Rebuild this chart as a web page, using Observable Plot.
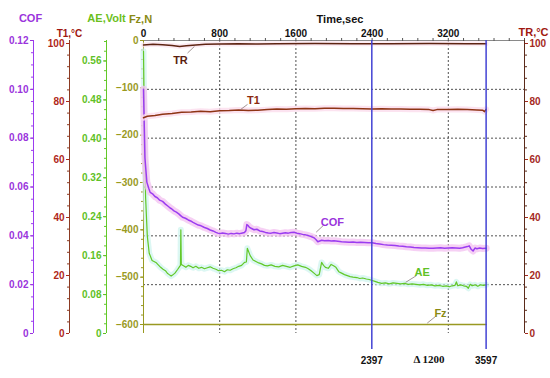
<!DOCTYPE html>
<html><head><meta charset="utf-8">
<script src="https://cdn.jsdelivr.net/npm/d3@7"></script>
<script src="https://cdn.jsdelivr.net/npm/@observablehq/plot@0.6"></script>
<style>
body{margin:0;background:#fff;}
#chart{position:relative;width:550px;height:378px;background:#fff;}
#chart svg{position:absolute;left:0;top:0;}
</style></head><body><div id="chart"></div>
<script>
// ---------- data ----------
const xDomain = [0, 4000];
const timeTicks = [0, 800, 1600, 2400, 3200];
const timeMinor = [160,320,480,640,800,960,1120,1280,1440,1600,1760,1920,2080,2240,2400,2560,2720,2880,3040,3200,3360,3520,3680,3840,4000];
const gridTimes = [800, 1600, 3200];
const cursorTimes = [2397, 3597];

const cofDomain = [0, 0.12];
const cofTicks = [0, 0.02, 0.04, 0.06, 0.08, 0.10, 0.12];
const cofGrid = [0.02, 0.04, 0.06, 0.08, 0.10];
const tempDomain = [0, 100];
const tempTicks = [0, 20, 40, 60, 80, 100];
const aeDomain = [0, 0.6];
const aeTicks = [0, 0.08, 0.16, 0.24, 0.32, 0.40, 0.48, 0.56];
const fzDomain = [-600, 0];
const fzTicks = [-600, -500, -400, -300, -200, -100, 0];

// [time (s), COF]
const cofSeries = [[0,0.100],[15,0.072],[35,0.062],[55,0.0595],[70,0.0578],[95,0.0572],[120,0.0561],[145,0.0556],[170,0.0546],[200,0.0541],[230,0.0530],[255,0.0522],[280,0.0514],[300,0.0509],[320,0.0502],[345,0.0497],[370,0.0490],[390,0.0483],[410,0.0476],[440,0.0472],[470,0.0465],[495,0.0461],[520,0.0455],[550,0.0449],[575,0.0444],[605,0.0441],[640,0.0434],[670,0.0430],[700,0.0424],[730,0.0420],[760,0.0414],[780,0.0411],[800,0.0409],[830,0.0412],[860,0.0410],[890,0.0407],[920,0.0410],[950,0.0408],[980,0.0411],[1010,0.0409],[1040,0.0412],[1060,0.0414],[1075,0.0421],[1085,0.0446],[1095,0.0443],[1110,0.0436],[1130,0.0431],[1160,0.0425],[1190,0.0427],[1220,0.0420],[1250,0.0418],[1280,0.0414],[1310,0.0412],[1340,0.0411],[1370,0.0414],[1400,0.0412],[1430,0.0409],[1460,0.0411],[1490,0.0413],[1520,0.0411],[1550,0.0414],[1580,0.0415],[1610,0.0411],[1640,0.0409],[1670,0.0406],[1700,0.0404],[1730,0.0401],[1760,0.0397],[1790,0.0392],[1810,0.0385],[1830,0.0376],[1850,0.0379],[1870,0.0382],[1900,0.0380],[1940,0.0381],[1970,0.0379],[2000,0.0380],[2040,0.0378],[2080,0.0376],[2120,0.0375],[2160,0.0374],[2200,0.0375],[2240,0.0373],[2280,0.0374],[2320,0.0373],[2360,0.0372],[2400,0.0372],[2440,0.0369],[2480,0.0367],[2520,0.0364],[2560,0.0362],[2600,0.0361],[2640,0.0360],[2680,0.0358],[2720,0.0357],[2760,0.0355],[2800,0.0354],[2840,0.0352],[2880,0.0351],[2920,0.0350],[2960,0.0350],[3000,0.0349],[3040,0.0349],[3080,0.0350],[3120,0.0351],[3160,0.0349],[3200,0.0350],[3240,0.0351],[3280,0.0350],[3320,0.0349],[3350,0.0351],[3380,0.0354],[3400,0.0356],[3420,0.0359],[3440,0.0345],[3460,0.0338],[3480,0.0350],[3500,0.0347],[3530,0.0350],[3560,0.0348],[3597,0.0349]];

// [time (s), AE (V)]
const aeSeries = [[0,0.58],[10,0.42],[22,0.28],[40,0.20],[60,0.165],[90,0.150],[130,0.146],[160,0.140],[180,0.136],[205,0.132],[230,0.129],[250,0.124],[270,0.121],[290,0.118],[305,0.120],[330,0.124],[360,0.132],[380,0.138],[388,0.140],[392,0.213],[397,0.142],[420,0.139],[445,0.136],[470,0.140],[495,0.138],[520,0.135],[550,0.138],[580,0.134],[610,0.136],[640,0.133],[670,0.135],[700,0.137],[730,0.134],[760,0.132],[790,0.129],[820,0.130],[850,0.127],[880,0.131],[910,0.130],[940,0.133],[970,0.135],[1000,0.138],[1030,0.140],[1060,0.146],[1080,0.147],[1090,0.175],[1100,0.170],[1120,0.160],[1150,0.151],[1180,0.148],[1210,0.145],[1240,0.143],[1270,0.140],[1300,0.139],[1340,0.141],[1380,0.138],[1420,0.137],[1460,0.140],[1500,0.138],[1540,0.136],[1580,0.139],[1620,0.141],[1660,0.138],[1700,0.136],[1730,0.133],[1760,0.129],[1790,0.124],[1820,0.119],[1845,0.121],[1870,0.146],[1890,0.140],[1910,0.136],[1940,0.134],[1970,0.142],[1995,0.139],[2020,0.136],[2050,0.127],[2080,0.124],[2110,0.121],[2140,0.119],[2170,0.117],[2200,0.116],[2240,0.115],[2270,0.113],[2300,0.114],[2340,0.112],[2370,0.111],[2400,0.109],[2430,0.107],[2460,0.105],[2500,0.103],[2540,0.104],[2580,0.102],[2620,0.104],[2660,0.103],[2700,0.102],[2740,0.103],[2780,0.101],[2820,0.102],[2860,0.101],[2900,0.100],[2940,0.101],[2980,0.099],[3020,0.100],[3060,0.098],[3100,0.099],[3140,0.097],[3180,0.098],[3210,0.096],[3240,0.098],[3270,0.099],[3285,0.106],[3300,0.098],[3330,0.100],[3360,0.098],[3390,0.097],[3410,0.093],[3430,0.101],[3450,0.098],[3480,0.100],[3510,0.097],[3540,0.100],[3570,0.099],[3597,0.100]];

// [time (s), T1 (°C)]
const t1Series = [[0,74.4],[40,74.9],[120,75.2],[200,75.6],[300,75.9],[400,76.3],[500,76.4],[600,76.6],[700,76.5],[800,76.8],[900,76.9],[1000,77.1],[1100,76.9],[1200,77.0],[1300,77.2],[1400,77.4],[1500,77.3],[1600,77.5],[1700,77.6],[1800,77.5],[1900,77.7],[2000,77.7],[2100,77.6],[2200,77.6],[2300,77.5],[2400,77.4],[2500,77.5],[2600,77.4],[2700,77.4],[2800,77.3],[2900,77.3],[3000,77.2],[3040,76.9],[3080,77.2],[3200,77.2],[3300,77.3],[3400,77.2],[3500,77.1],[3560,77.0],[3580,76.5],[3597,77.3]];

// [time (s), TR (°C)]
const trSeries = [[0,99.5],[100,99.7],[200,99.6],[300,99.3],[380,99.0],[450,99.2],[550,99.5],[650,99.7],[800,99.8],[1000,99.9],[1200,99.8],[1400,99.9],[1800,100.0],[2200,99.9],[2600,99.9],[3000,100.0],[3400,99.9],[3597,99.9]];

// [time (s), Fz (N)]
const fzSeries = [[0,-600],[3597,-600]];

// series annotations: label position and leader line, in data units
const trLabel  = {name:"TR",  t:388,  v:94.1,   t1:462,  v1:96.7,   t2:535,  v2:99.0};
const t1Label  = {name:"T1",  t:1155, v:80.3,   t1:1092, v1:79.0,   t2:1018, v2:77.2};
const cofLabel = {name:"COF", t:1984, v:0.0456, t1:1887, v1:0.0442, t2:1813, v2:0.0415};
const aeLabel  = {name:"AE",  t:2926, v:0.126,  t1:2866, v1:0.119,  t2:2751, v2:0.105};
const fzLabel  = {name:"Fz",  t:3118, v:-576,   t1:3066, v1:-583,   t2:2979, v2:-597};

// minor tick positions (tick marks only)
const cofMinor = d3.range(0, 0.1201, 0.005);
const tempMinor = d3.range(0, 100.1, 4);
const aeMinor = d3.range(0, 0.601, 0.02);
const fzMinor = d3.range(-600, 0.1, 20);

// ---------- styles ----------
const FONT = "Arial, 'Liberation Sans', Helvetica, sans-serif";
const cofColor = "#9a34dc", cofLine = "#9b3cf0";
const t1Color = "#b0281a", t1Line = "#8e3414";
const trColor = "#a52a1e", trLine = "#5e2412";
const aeColor = "#5fc126", aeLine = "#62c828";
const fzColor = "#9a9a1e", fzLine = "#999922";
const grid = {stroke:"#333", strokeDasharray:"2,2", strokeOpacity:0.85};
const tickText = {fontWeight:"bold", fontSize:10};
const title = {textAnchor:"middle", fontWeight:"bold", fontSize:11};
const fmt2 = d => d === 0 ? "0" : d.toFixed(2);
const noText = () => "";

const chart = document.getElementById("chart");
function layer(opts) {
  const svg = Plot.plot({
    width: 550, height: 378, marginLeft: 143, marginRight: 26,
    ...opts,
    x: {domain: xDomain, ...(opts.x || {})},
    style: {background: "transparent", fontFamily: FONT, overflow: "visible"}
  });
  chart.appendChild(svg);
}
const xy = {x: d => d[0], y: d => d[1]};
function seriesLabel(lab, color) {
  return [
    Plot.link([lab], {x1:"t1", y1:"v1", x2:"t2", y2:"v2", stroke:"#8a7a7a", strokeWidth:0.8}),
    Plot.text([lab], {x:"t", y:"v", text:"name", fill:color, fontWeight:"bold", fontSize:11})
  ];
}

// grid, top time axis, COF axis
layer({
  marginTop: 40, marginBottom: 45,
  y: {domain: cofDomain},
  marks: [
    Plot.ruleY(cofGrid, grid),
    Plot.ruleX(gridTimes, grid),
    Plot.ruleY([cofDomain[1]], {stroke:"#8a8a8a"}),
    Plot.axisX({anchor:"top", ticks: timeMinor, tickSize:3, tickFormat: noText, label:null, color:"#555"}),
    Plot.axisX({anchor:"top", ticks: timeTicks, tickSize:0, tickPadding:4, label:null, tickFormat: d => String(d), color:"#111", ...tickText}),
    Plot.text(["Time,sec"], {text: d => d, frameAnchor:"top", dx:6, dy:-25, fill:"#111", ...title}),
    Plot.ruleX([0], {dx:-110, stroke: cofLine}),
    Plot.axisY({ticks: cofMinor, tickSize:2, tickFormat: noText, label:null, dx:-110, color: cofLine}),
    Plot.axisY({ticks: cofTicks, tickSize:3, tickPadding:2, dx:-110, label:null, tickFormat: fmt2, color: cofColor, ...tickText}),
    Plot.text(["COF"], {text: d => d, frameAnchor:"top-left", dx:-113, dy:-26, fill: cofColor, ...title})
  ]
});

// Fz
layer({
  marginTop: 40, marginBottom: 54,
  x: {axis: null},
  y: {domain: fzDomain},
  marks: [
    Plot.line(fzSeries, {...xy, stroke: fzLine, strokeWidth: 1.5}),
    Plot.ruleX([0], {insetBottom: -9, stroke: fzLine}),
    Plot.axisY({ticks: fzMinor, tickSize:2, tickFormat: noText, label:null, color: fzLine}),
    Plot.axisY({ticks: fzTicks, tickSize:3, tickPadding:2, label:null, color: fzColor, ...tickText}),
    Plot.text(["Fz,N"], {text: d => d, frameAnchor:"top-left", dx:-3, dy:-25, fill:"#8a8a14", ...title}),
    ...seriesLabel(fzLabel, "#8a8a14")
  ]
});

// AE
layer({
  marginTop: 41, marginBottom: 45,
  x: {axis: null},
  y: {domain: aeDomain},
  marks: [
    Plot.line(aeSeries, {...xy, stroke:"#cdf4ee", strokeWidth:6, strokeOpacity:0.7}),
    Plot.line(aeSeries, {...xy, stroke: aeLine, strokeWidth: 1.2}),
    Plot.ruleX([0], {dx:-37, insetTop:-1, stroke: aeLine}),
    Plot.axisY({ticks: aeMinor, tickSize:2, tickFormat: noText, label:null, dx:-37, color: aeLine}),
    Plot.axisY({ticks: aeTicks, tickSize:3, tickPadding:2, dx:-37, label:null, tickFormat: fmt2, color: aeColor, ...tickText}),
    Plot.text(["AE,Volt"], {text: d => d, frameAnchor:"top-left", dx:-37, dy:-27, fill:"#6cbf1c", ...title}),
    ...seriesLabel(aeLabel, aeColor)
  ]
});

// COF
layer({
  marginTop: 40, marginBottom: 45,
  x: {axis: null},
  y: {domain: cofDomain, axis: null},
  marks: [
    Plot.line(cofSeries, {...xy, stroke:"#f4c4f1", strokeWidth:7, strokeOpacity:0.8}),
    Plot.line(cofSeries, {...xy, stroke: cofLine, strokeWidth: 1.5}),
    ...seriesLabel(cofLabel, cofColor)
  ]
});

// temperatures T1 (left axis) and TR (right axis)
layer({
  marginTop: 43, marginBottom: 45,
  x: {axis: null},
  y: {domain: tempDomain},
  marks: [
    Plot.line(t1Series, {...xy, stroke:"#fbdcec", strokeWidth:6, strokeOpacity:0.8}),
    Plot.line(trSeries, {...xy, stroke:"#fbe2ee", strokeWidth:5, strokeOpacity:0.7}),
    Plot.line(t1Series, {...xy, stroke: t1Line, strokeWidth: 1.5}),
    Plot.line(trSeries, {...xy, stroke: trLine, strokeWidth: 1.5}),
    Plot.ruleX([0], {dx:-74, insetTop:-3, stroke:"#8b3a22"}),
    Plot.axisY({ticks: tempMinor, tickSize:2, tickFormat: noText, label:null, dx:-74, color:"#8b3a22"}),
    Plot.axisY({ticks: tempTicks, tickSize:3, tickPadding:2, dx:-74, label:null, color: t1Color, ...tickText}),
    Plot.text(["T1,°C"], {text: d => d, frameAnchor:"top-left", dx:-74, dy:-14, fill:"#a01810", ...title, fontSize:10}),
    Plot.ruleX([xDomain[1]], {insetTop:-3, stroke:"#5a2a1a"}),
    Plot.axisY({anchor:"right", ticks: tempMinor, tickSize:2, tickFormat: noText, label:null, color:"#5a2a1a"}),
    Plot.axisY({anchor:"right", ticks: tempTicks, tickSize:3, tickPadding:2, label:null, color: trColor, ...tickText}),
    Plot.text(["TR,°C"], {text: d => d, frameAnchor:"top-right", dx:9, dy:-15, fill:"#a01810", ...title}),
    ...seriesLabel(t1Label, "#8b2a10"),
    ...seriesLabel(trLabel, "#5a1e0e")
  ]
});

// cursors
layer({
  marginTop: 40, marginBottom: 45,
  x: {axis: null},
  y: {domain: cofDomain, axis: null},
  marks: [
    Plot.ruleX(cursorTimes, {stroke:"#4343d4", strokeWidth:1.5, insetBottom:-16}),
    Plot.text(cursorTimes, {x: d => d, text: d => String(d), frameAnchor:"bottom", dy:30, fill:"#111", fontWeight:"bold", fontSize:10}),
    Plot.text([cursorTimes], {x: d => (d[0] + d[1]) / 2, text: d => `Δ ${d[1] - d[0]}`, frameAnchor:"bottom", dy:29, fill:"#111", fontFamily:"'Liberation Serif','Times New Roman',serif", fontWeight:"bold", fontSize:11})
  ]
});
</script>
</body></html>
